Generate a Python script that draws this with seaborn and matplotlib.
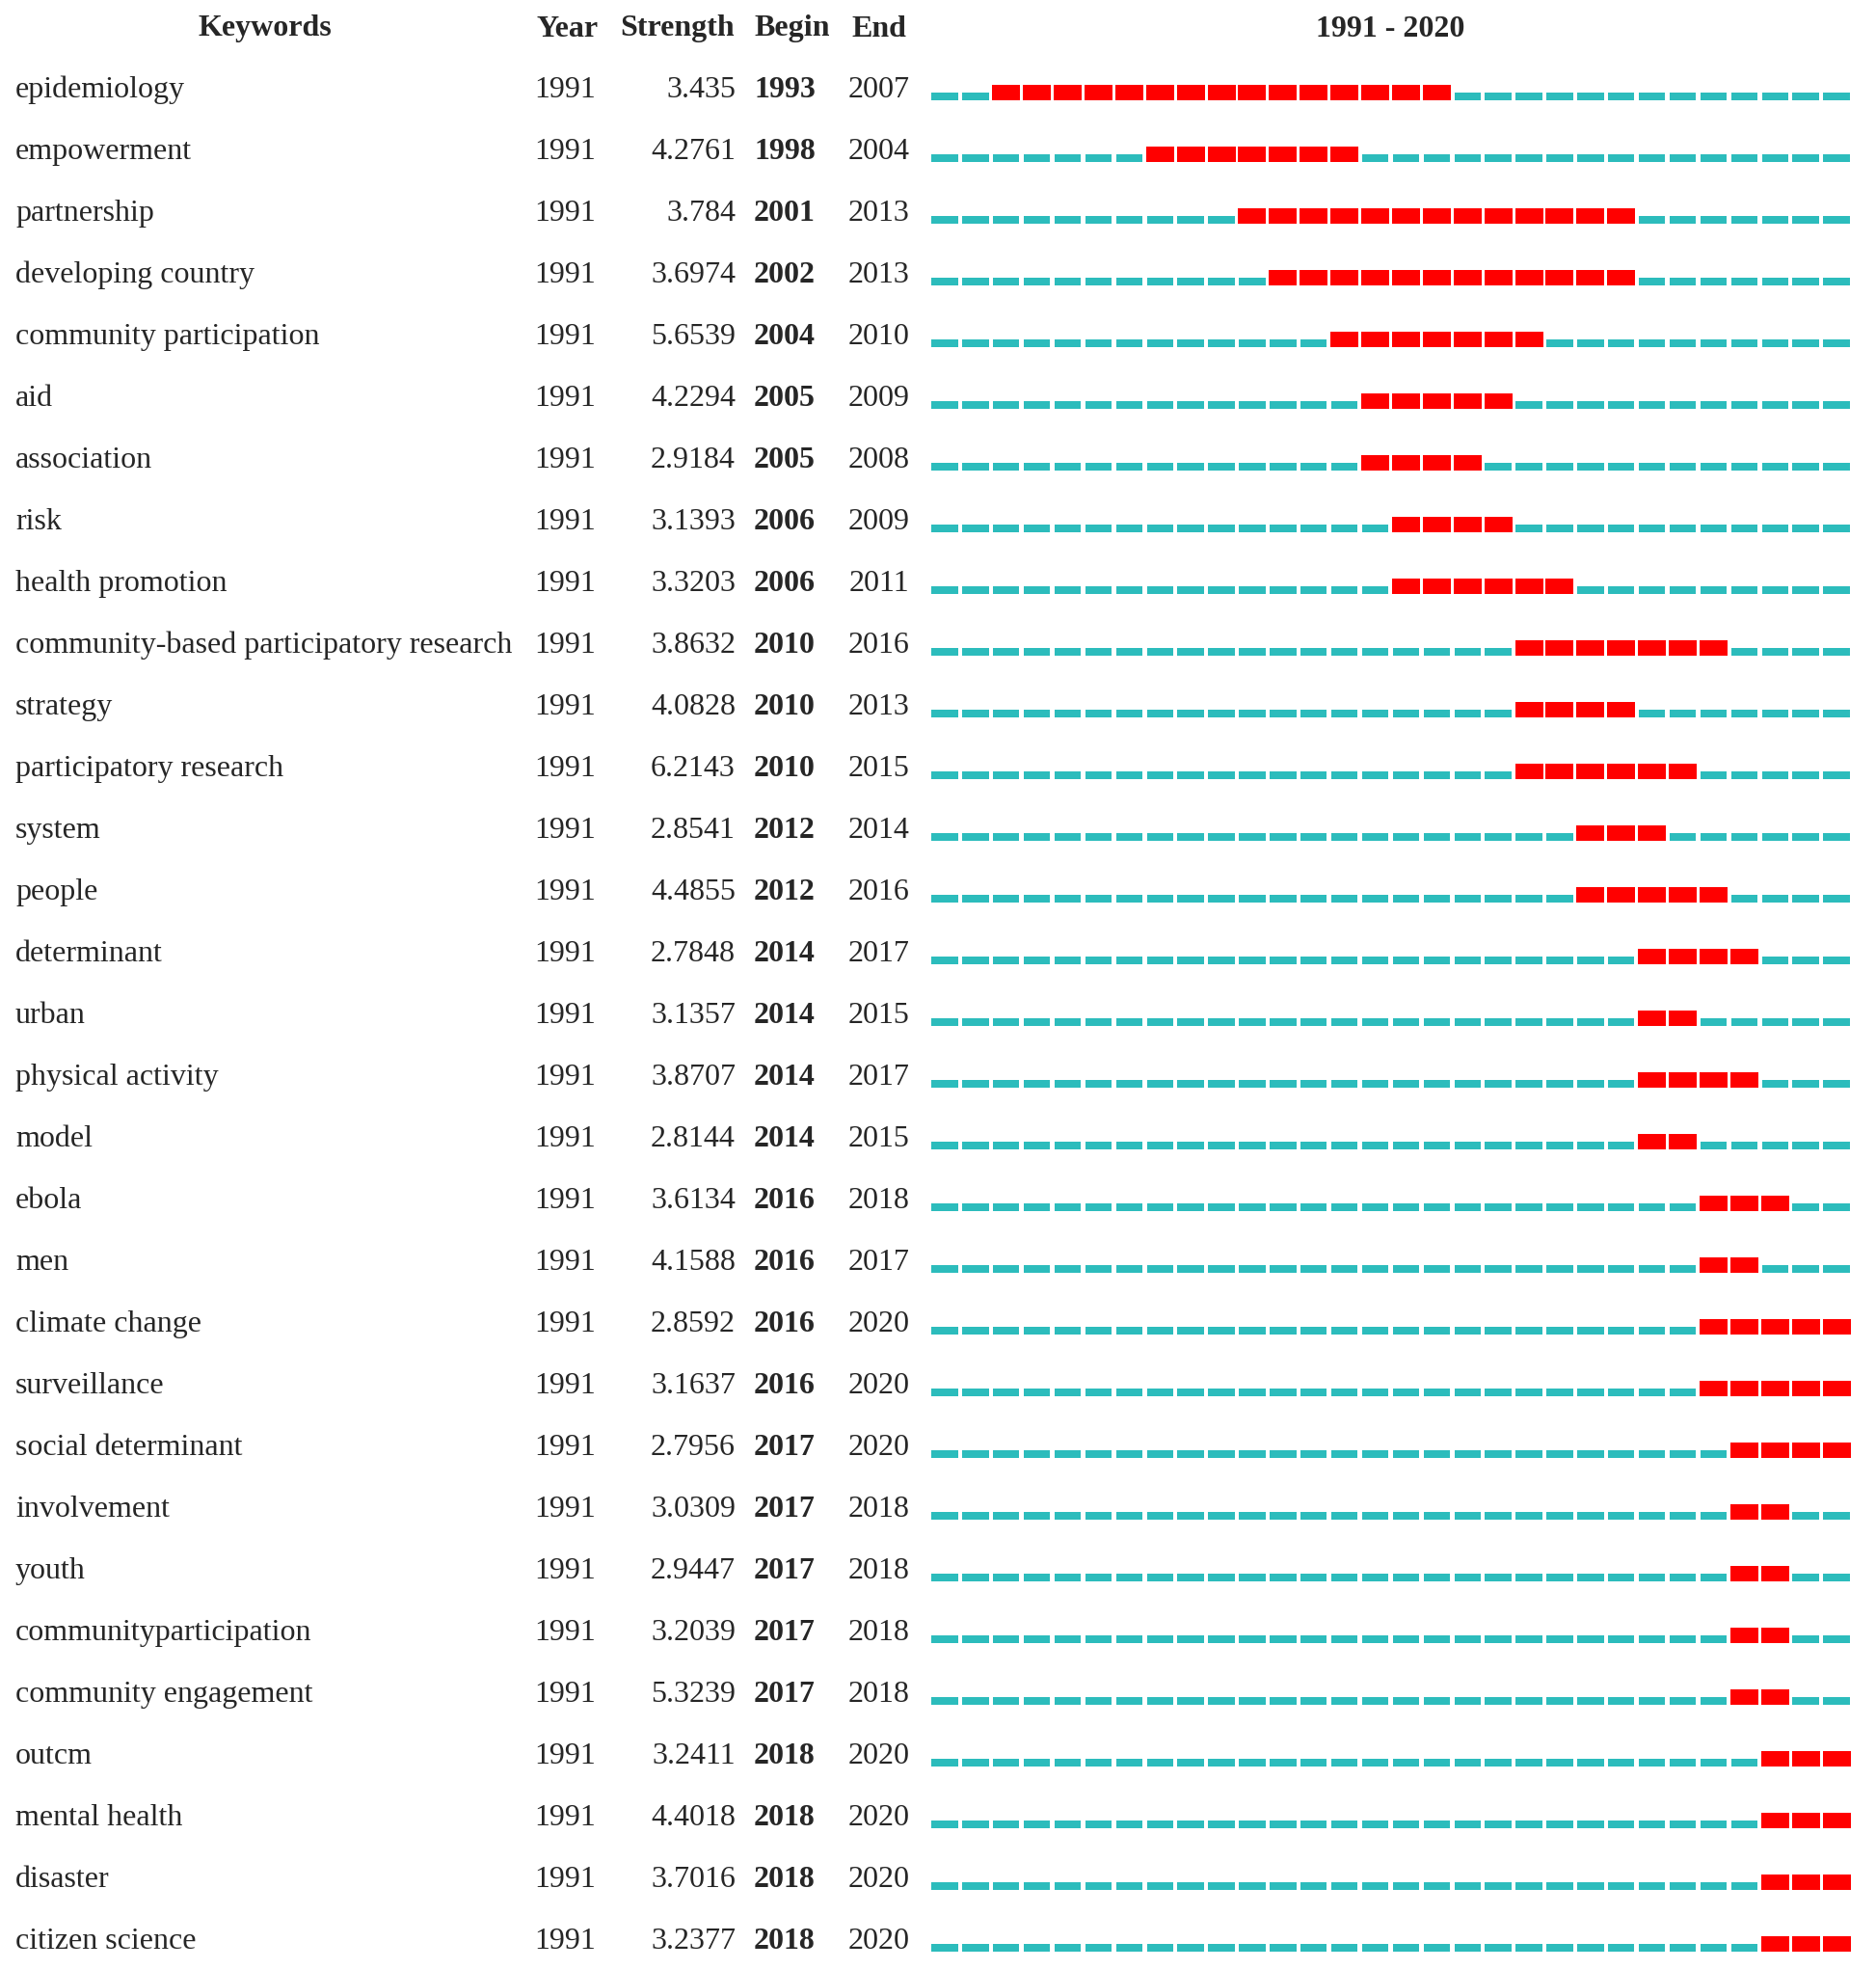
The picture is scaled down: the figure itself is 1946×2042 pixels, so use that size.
import pandas as pd
import matplotlib.pyplot as plt
import seaborn as sns

# burst table data
keywords = ["epidemiology", "empowerment", "partnership", "developing country",
            "community participation", "aid", "association", "risk", "health promotion",
            "community-based participatory research", "strategy", "participatory research",
            "system", "people", "determinant", "urban", "physical activity", "model",
            "ebola", "men", "climate change", "surveillance", "social determinant",
            "involvement", "youth", "communityparticipation", "community engagement",
            "outcm", "mental health", "disaster", "citizen science"]
strength = ["3.435", "4.2761", "3.784", "3.6974", "5.6539", "4.2294", "2.9184", "3.1393",
            "3.3203", "3.8632", "4.0828", "6.2143", "2.8541", "4.4855", "2.7848", "3.1357",
            "3.8707", "2.8144", "3.6134", "4.1588", "2.8592", "3.1637", "2.7956", "3.0309",
            "2.9447", "3.2039", "5.3239", "3.2411", "4.4018", "3.7016", "3.2377"]
begin = [1993, 1998, 2001, 2002, 2004, 2005, 2005, 2006, 2006, 2010, 2010, 2010, 2012,
         2012, 2014, 2014, 2014, 2014, 2016, 2016, 2016, 2016, 2017, 2017, 2017, 2017,
         2017, 2018, 2018, 2018, 2018]
end = [2007, 2004, 2013, 2013, 2010, 2009, 2008, 2009, 2011, 2016, 2013, 2015, 2014,
       2016, 2017, 2015, 2017, 2015, 2018, 2017, 2020, 2020, 2020, 2018, 2018, 2018,
       2018, 2020, 2020, 2020, 2020]
first_year, last_year = 1991, 2020

sns.set_theme(style="white")
plt.rcParams['font.family'] = ['Liberation Serif', 'DejaVu Serif']

# one row per keyword-year cell
rows = []
for i, kw in enumerate(keywords):
    for yr in range(first_year, last_year + 1):
        rows.append({"row": i, "year": yr, "burst": begin[i] <= yr <= end[i]})
cells = pd.DataFrame(rows)

W, H = 1946, 2042
fig = plt.figure(figsize=(W / 100, H / 100), dpi=100)
y0, dy = 100, 64
ylim = ((H - y0) / dy, -y0 / dy)

# text layer in pixel x coordinates
ax_t = fig.add_axes([0, 0, 1, 1])
ax_t.set_xlim(0, W)
ax_t.set_ylim(*ylim)
ax_t.axis("off")

fs = 23
hy = (30 - y0) / dy
for x, lab in [(275, "Keywords"), (589, "Year"), (703, "Strength"), (822, "Begin"),
               (912, "End"), (1442, f"{first_year} - {last_year}")]:
    ax_t.text(x, hy, lab, ha="center", va="center", fontsize=fs, fontweight="bold")

for i, kw in enumerate(keywords):
    ty = i - 0.1
    ax_t.text(16, ty, kw, ha="left", va="center", fontsize=fs)
    ax_t.text(586, ty, str(first_year), ha="center", va="center", fontsize=fs)
    ax_t.text(763, ty, strength[i], ha="right", va="center", fontsize=fs)
    ax_t.text(814, ty, str(begin[i]), ha="center", va="center", fontsize=fs, fontweight="bold")
    ax_t.text(912, ty, str(end[i]), ha="center", va="center", fontsize=fs)

# burst timeline layer
ax_b = fig.add_axes([964 / W, 0, (1921 - 964) / W, 1])
ax_b.set_xlim(first_year, last_year + 1)
ax_b.set_ylim(*ylim)
ax_b.axis("off")

off = cells[~cells["burst"]]
on = cells[cells["burst"]]
ax_b.bar(off["year"] + 0.07, 0.14, bottom=off["row"] - 0.07, width=0.86,
         align="edge", color="#2cbcbc", edgecolor="none")
ax_b.bar(on["year"] + 0.045, 0.26, bottom=on["row"] + 0.07 - 0.26, width=0.91,
         align="edge", color="#ff0000", edgecolor="none")

fig.savefig("out.png", dpi=100, facecolor="white")
